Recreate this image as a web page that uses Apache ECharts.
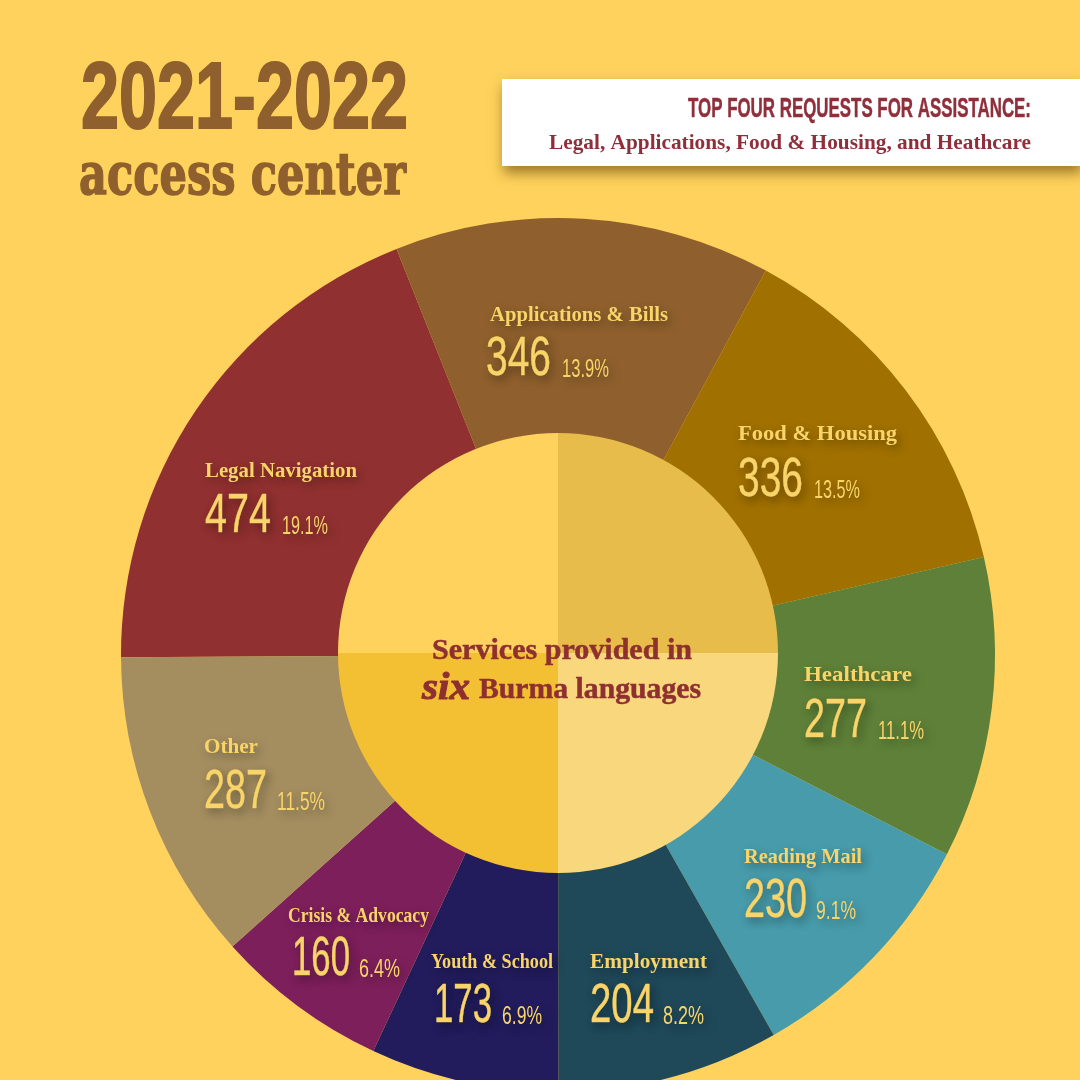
<!DOCTYPE html>
<html>
<head>
<meta charset="utf-8">
<title>2021-2022 access center</title>
<script src="https://cdn.jsdelivr.net/npm/echarts@6/dist/echarts.min.js"></script>
<style>
  html, body { margin: 0; padding: 0; background: #fed25c; }
  #chart { width: 1080px; height: 1080px; }
</style>
</head>
<body>
<div id="chart"></div>
<script>
  // values
  const categories = ['Legal Navigation', 'Applications & Bills', 'Food & Housing', 'Healthcare', 'Reading Mail', 'Employment', 'Youth & School', 'Crisis & Advocacy', 'Other'];
  const requests = [474, 346, 336, 277, 230, 204, 173, 160, 287];
  const percents = ['19.1%', '13.9%', '13.5%', '11.1%', '9.1%', '8.2%', '6.9%', '6.4%', '11.5%'];
  const sliceColors = ['#913030', '#8f602d', '#a07000', '#5e8038', '#479baa', '#1f4859', '#221c5c', '#7d1f5b', '#a48e60'];
  const quadrants = [1, 1, 1, 1];
  const quadrantColors = ['#e8bc4a', '#f9d77c', '#f4c033', '#fed25c'];

  // label layout: name x, name right, name y, value x, value right, value y, percent x, percent right
  const labelBoxes = [
    [205, 357, 472, 205, 271, 517, 282, 328],
    [490, 668, 316, 486, 551, 360, 562, 609],
    [738, 897, 435, 738, 803, 481, 814, 860],
    [804, 912, 676, 804, 867, 722, 878, 924],
    [744, 862, 858, 744, 807, 902, 816, 856],
    [590, 707, 963, 590, 654, 1007, 663, 704],
    [431, 553, 963, 434, 492, 1007, 502, 542],
    [288, 429, 917, 292, 350, 960, 359, 400],
    [204, 258, 748, 204, 267, 793, 277, 325]
  ];

  const serif = '"Liberation Serif", "DejaVu Serif", serif';
  const narrow = '"Liberation Sans Narrow", "Liberation Sans", sans-serif';
  const labelColor = '#f9d469';

  const measureCtx = document.createElement('canvas').getContext('2d');
  const fitText = (text, x, y, right, font, fill, extra) => {
    measureCtx.font = font;
    return {
      type: 'text',
      x,
      y,
      z: 10,
      scaleX: (right - x) / measureCtx.measureText(text).width,
      style: Object.assign({ text, font, fill, align: 'left', verticalAlign: 'middle' }, extra)
    };
  };

  const shadow = { textShadowColor: 'rgba(0,0,0,0.35)', textShadowBlur: 10, textShadowOffsetX: 3, textShadowOffsetY: 4 };
  const valueStyle = Object.assign({ stroke: labelColor, lineWidth: 0.6 }, shadow);

  const sliceLabels = [];
  categories.forEach((name, i) => {
    const b = labelBoxes[i];
    sliceLabels.push(fitText(name, b[0], b[2], b[1], `bold 21px ${serif}`, labelColor, shadow));
    sliceLabels.push(fitText(String(requests[i]), b[3], b[5], b[4], `56px ${narrow}`, labelColor, valueStyle));
    sliceLabels.push(fitText(percents[i], b[6], b[5] + 10, b[7], `25px ${narrow}`, labelColor, shadow));
  });

  const chart = echarts.init(document.getElementById('chart'));
  chart.setOption({
    backgroundColor: '#fed25c',
    animation: false,
    series: [
      {
        type: 'pie',
        center: [558, 655],
        radius: [210, 437],
        startAngle: 180.3,
        silent: true,
        label: { show: false },
        labelLine: { show: false },
        data: requests.map((value, i) => ({ value, name: categories[i], itemStyle: { color: sliceColors[i] } }))
      },
      {
        type: 'pie',
        center: [558, 653],
        radius: [0, 220],
        startAngle: 90,
        silent: true,
        label: { show: false },
        labelLine: { show: false },
        data: quadrants.map((value, i) => ({ value, itemStyle: { color: quadrantColors[i] } }))
      }
    ],
    graphic: [
      {
        type: 'rect',
        z: 9,
        shape: { x: 502, y: 79, width: 578, height: 87 },
        style: { fill: '#ffffff', shadowColor: 'rgba(80,50,0,0.55)', shadowBlur: 12, shadowOffsetX: 2, shadowOffsetY: 7 }
      },
      fitText('2021-2022', 81, 102, 408, `bold 95px ${narrow}`, '#8f602d', { stroke: '#8f602d', lineWidth: 2 }),
      fitText('access center', 79, 179, 406, `bold 58px "DejaVu Serif", serif`, '#8f602d', { stroke: '#8f602d', lineWidth: 1.5 }),
      fitText('TOP FOUR REQUESTS FOR ASSISTANCE:', 688, 109, 1031, `bold 28px ${narrow}`, '#8f2f3c', { stroke: '#8f2f3c', lineWidth: 0.5 }),
      fitText('Legal, Applications, Food & Housing, and Heathcare', 549, 144, 1031, `bold 21px ${serif}`, '#8f2f3c'),
      fitText('Services provided in', 432, 651, 692, `bold 30px ${serif}`, '#8f3030', { stroke: '#8f3030', lineWidth: 0.5 }),
      fitText('six', 422, 689, 470, `italic bold 38px ${serif}`, '#8f3030', { stroke: '#8f3030', lineWidth: 1 }),
      fitText('Burma languages', 479, 690, 701, `bold 30px ${serif}`, '#8f3030', { stroke: '#8f3030', lineWidth: 0.5 })
    ].concat(sliceLabels)
  });
</script>
</body>
</html>
